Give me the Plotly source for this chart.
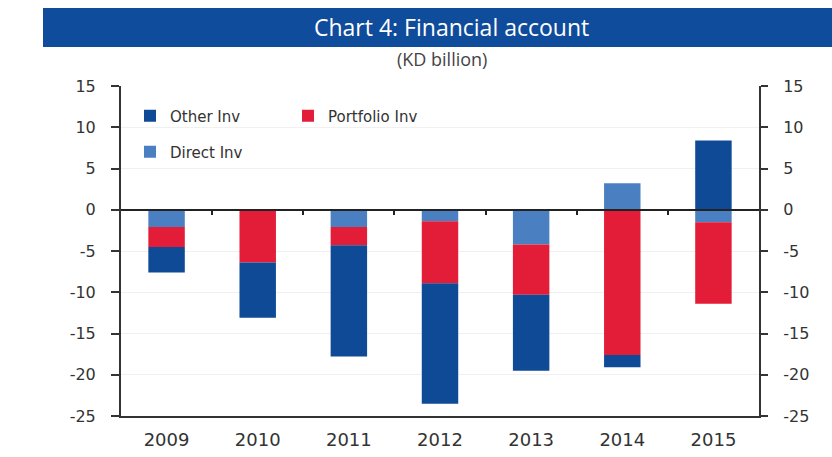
import plotly.graph_objects as go

years = ["2009", "2010", "2011", "2012", "2013", "2014", "2015"]
direct_inv = [-2.1, 0.0, -2.1, -1.4, -4.2, 3.2, -1.5]
portfolio_inv = [-2.4, -6.4, -2.2, -7.5, -6.1, -17.6, -9.9]
other_inv = [-3.1, -6.7, -13.5, -14.6, -9.2, -1.5, 8.4]
y_ticks = [15, 10, 5, 0, -5, -10, -15, -20, -25]
y_tick_labels = [str(v) for v in y_ticks]

C_OTHER = "#0f4a96"
C_PORT = "#e31d37"
C_DIRECT = "#4a80c1"
FONT = "DejaVu Sans"

fig = go.Figure()
fig.add_trace(go.Bar(x=years, y=direct_inv, name="Direct Inv", marker_color=C_DIRECT,
                     marker_line_width=0, legend="legend2"))
fig.add_trace(go.Bar(x=years, y=portfolio_inv, name="Portfolio Inv", marker_color=C_PORT,
                     marker_line_width=0, legend="legend", legendrank=2))
fig.add_trace(go.Bar(x=years, y=other_inv, name="Other Inv", marker_color=C_OTHER,
                     marker_line_width=0, legend="legend", legendrank=1))

yr = [-25, 15]
ytick_font = dict(family=FONT, size=16, color="#333333")
xtick_font = dict(family=FONT, size=18, color="#333333")
leg_font = dict(family=FONT, size=15, color="#333333")

L, R, T, B = 121, 73, 86, 41
PW, PH = 832 - L - R, 457 - T - B

fig.update_layout(
    width=832, height=457,
    margin=dict(l=L, r=R, t=T, b=B, autoexpand=False),
    paper_bgcolor="white", plot_bgcolor="white",
    barmode="relative", bargap=0.6,
    font=dict(family=FONT, color="#333333"),
    xaxis=dict(type="category", range=[-0.5, 6.5], showline=True, linecolor="#333333",
               linewidth=2, ticks="", tickfont=xtick_font, showgrid=False, zeroline=False,
               ticklabelstandoff=6),
    yaxis=dict(range=yr, tickvals=y_ticks, ticktext=y_tick_labels, ticks="outside",
               ticklen=8, tickwidth=1.5, tickcolor="#333333", showline=True,
               linecolor="#333333", linewidth=2, showgrid=True, gridcolor="#f0f0f0",
               zeroline=False, tickfont=ytick_font, ticklabelstandoff=12),
    yaxis2=dict(range=yr, tickvals=y_ticks, ticktext=y_tick_labels, overlaying="y",
                side="right", anchor="x", ticks="outside", ticklen=7, tickwidth=1.5,
                tickcolor="#333333", showline=True, linecolor="#333333", linewidth=2,
                showgrid=False, zeroline=False, tickfont=ytick_font, ticklabelstandoff=12),
    xaxis2=dict(range=[-0.5, 6.5], overlaying="x", anchor="free", position=25 / 40,
                showline=True, linecolor="#222222", linewidth=1.5, ticks="outside",
                ticklen=4, tickwidth=1.5, tickcolor="#222222",
                tickvals=[0.5, 1.5, 2.5, 3.5, 4.5, 5.5], showticklabels=False,
                showgrid=False, zeroline=False),
    legend=dict(orientation="h", x=(130 - L) / PW, y=1 - 30 / PH, xanchor="left",
                yanchor="middle", font=leg_font, bgcolor="rgba(0,0,0,0)",
                entrywidth=113, entrywidthmode="pixels", itemwidth=30),
    legend2=dict(orientation="h", x=(130 - L) / PW, y=1 - 66 / PH, xanchor="left",
                 yanchor="middle", font=leg_font, bgcolor="rgba(0,0,0,0)", itemwidth=30),
    shapes=[dict(type="rect", xref="paper", yref="paper", x0=(43 - L) / PW,
                 x1=(840 - L) / PW, y0=1.0 + (T - 47) / PH, y1=1.0 + (T - 8) / PH,
                 fillcolor="#0f4c9b", line_width=0, layer="below")],
    annotations=[
        dict(text="Chart 4: Financial account", xref="paper", yref="paper",
             x=(451 - L) / PW, y=1.0 + (T - 27) / PH, xanchor="center", yanchor="middle",
             showarrow=False, font=dict(family="Open Sans", size=23, color="white")),
        dict(text="(KD billion)", xref="paper", yref="paper",
             x=(442 - L) / PW, y=1.0 + (T - 59) / PH, xanchor="center", yanchor="middle",
             showarrow=False, font=dict(family="Open Sans", size=18, color="#444444")),
    ],
)

# invisible helper traces so the overlay axes render
fig.add_trace(go.Scatter(x=[0], y=[0], xaxis="x2", yaxis="y", mode="markers",
                         marker_opacity=0, showlegend=False, hoverinfo="skip"))
fig.add_trace(go.Scatter(x=["2009"], y=[0], xaxis="x", yaxis="y2", mode="markers",
                         marker_opacity=0, showlegend=False, hoverinfo="skip"))

fig.write_html("out.html", config={"displayModeBar": False},
               post_script="document.body.style.margin='0';")
